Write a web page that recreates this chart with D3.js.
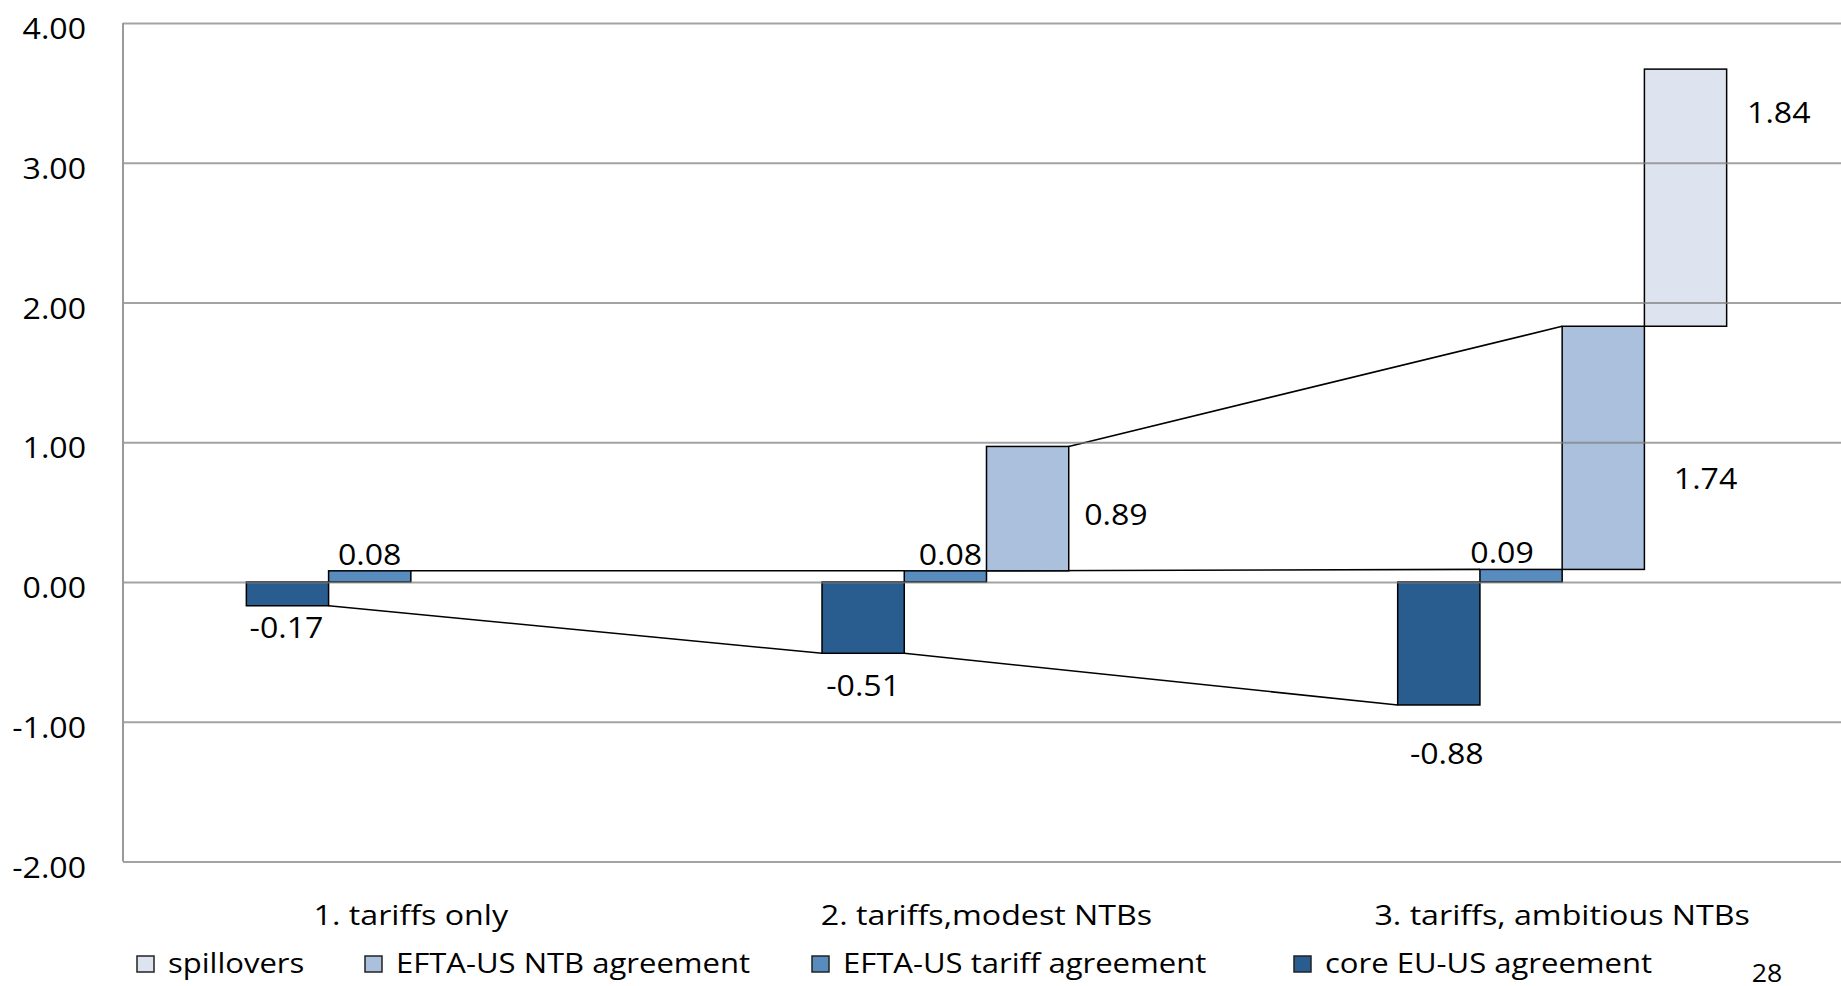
<!DOCTYPE html>
<html>
<head>
<meta charset="utf-8">
<script src="https://cdn.jsdelivr.net/npm/d3@7"></script>
<style>
  html, body { margin: 0; padding: 0; background: #ffffff; }
  svg { display: block; }
  text { font-family: "Open Sans", "Noto Sans", sans-serif; fill: #000; }
</style>
</head>
<body>
<svg id="chart" width="1841" height="986"></svg>
<script>
// ---- data ----
const categories = ["1. tariffs only", "2. tariffs,modest NTBs", "3. tariffs, ambitious NTBs"];
const coreEU     = [-0.17, -0.51, -0.88];
const eftaTariff = [0.08, 0.08, 0.09];
const eftaNTB    = [null, 0.89, 1.74];
const spillovers = [null, null, 1.84];
const yTicks     = [-2, -1, 0, 1, 2, 3, 4];

const seriesKeys   = ["core", "tariff", "ntb", "spill"];
const seriesNames  = ["core EU-US agreement", "EFTA-US tariff agreement", "EFTA-US NTB agreement", "spillovers"];
const seriesColors = ["#295d8f", "#588bbe", "#aac0dc", "#dee4ef"];
const legendOrder  = ["spill", "ntb", "tariff", "core"];
const pageNumber   = "28";

// ---- layout ----
const W = 1841, H = 986;
const plot = { left: 123, right: 1850, top: 23, bottom: 861.5 };
const numStretch = 1.07, wordStretch = 1.15;
const legendX = [137, 365, 812, 1294];
// hand-tuned label nudges [dx, dy] per series, per category
const labelNudge = {
  core:   [[-1, 0], [0, 11], [8, 27]],
  tariff: [[0, 0], [5, 0], [-19, 0]],
  ntb:    [null, [6, 5], [20, 30]],
  spill:  [null, null, [11, -86]]
};

const fmtLocale = d3.formatLocale({ decimal: ".", thousands: ",", grouping: [3], currency: ["", ""], minus: "-" });
const fmt = fmtLocale.format(".2f");

const svg = d3.select("#chart");

const x0 = d3.scaleBand().domain(categories).range([plot.left, plot.right]).paddingInner(0).paddingOuter(0);
const x1 = d3.scaleBand().domain(seriesKeys).range([0, x0.bandwidth()]).paddingInner(0).paddingOuter(1.5);
const y  = d3.scaleLinear().domain([-2, 4]).range([plot.bottom, plot.top]);
const bw = x1.bandwidth();

// waterfall segments: each series floats on the running total of the positive parts
const segs = [];
categories.forEach((c, i) => {
  const t = eftaTariff[i];
  const n = eftaNTB[i];
  const s = spillovers[i];
  segs.push({ key: "core", cat: c, i, v: coreEU[i], y0: 0, y1: coreEU[i] });
  segs.push({ key: "tariff", cat: c, i, v: t, y0: 0, y1: t });
  if (n != null) segs.push({ key: "ntb", cat: c, i, v: n, y0: t, y1: t + n });
  if (s != null) segs.push({ key: "spill", cat: c, i, v: s, y0: t + (n || 0), y1: t + (n || 0) + s });
});
const colorOf = k => seriesColors[seriesKeys.indexOf(k)];

// clip to the visible page
svg.append("defs").append("clipPath").attr("id", "pageclip")
  .append("rect").attr("x", 0).attr("y", 0).attr("width", W).attr("height", H);
const g = svg.append("g").attr("clip-path", "url(#pageclip)");

// series lines joining the ends of each series between neighbouring categories
const lineG = g.append("g");
seriesKeys.forEach(k => {
  const s = segs.filter(d => d.key === k).sort((a, b) => a.i - b.i);
  for (let j = 0; j < s.length - 1; j++) {
    const a = s[j], b = s[j + 1];
    if (b.i !== a.i + 1) continue;
    lineG.append("line")
      .attr("x1", x0(a.cat) + x1(k) + bw).attr("y1", y(a.y1))
      .attr("x2", x0(b.cat) + x1(k)).attr("y2", y(b.y1))
      .attr("stroke", "#000").attr("stroke-width", 1.6);
  }
});

// bars
g.append("g").selectAll("rect").data(segs).join("rect")
  .attr("x", d => x0(d.cat) + x1(d.key))
  .attr("y", d => y(Math.max(d.y0, d.y1)))
  .attr("width", bw)
  .attr("height", d => Math.abs(y(d.y0) - y(d.y1)))
  .attr("fill", d => colorOf(d.key))
  .attr("stroke", "#000").attr("stroke-width", 1.5);

// gridlines over the bars, as in the source sheet
const grid = g.append("g").attr("transform", `translate(${plot.left},0)`)
  .call(d3.axisLeft(y).tickValues(yTicks).tickSize(-(plot.right - plot.left)).tickFormat(""));
grid.select(".domain").remove();
grid.selectAll(".tick line").attr("stroke", "#7f7f7f").attr("stroke-opacity", 0.72).attr("stroke-width", 2);

// left axis line
g.append("line").attr("x1", plot.left).attr("x2", plot.left).attr("y1", plot.top).attr("y2", plot.bottom)
  .attr("stroke", "#9a9a9a").attr("stroke-width", 2);

// y tick labels
const yAxis = g.append("g").attr("transform", `translate(${plot.left},0)`)
  .call(d3.axisLeft(y).tickValues(yTicks).tickSize(0).tickPadding(0).tickFormat(fmt));
yAxis.select(".domain").remove();
yAxis.selectAll(".tick text")
  .attr("x", 0).attr("dy", null).attr("y", 0)
  .attr("font-size", 30).attr("font-family", "Open Sans")
  .attr("text-anchor", "end")
  .attr("transform", `translate(${86 - plot.left},15.5) scale(${numStretch},1)`);

// category labels
const xAxis = g.append("g").attr("transform", `translate(0,${plot.bottom})`)
  .call(d3.axisBottom(x0).tickSize(0));
xAxis.select(".domain").remove();
xAxis.selectAll(".tick text")
  .attr("y", 0).attr("dy", null)
  .attr("font-size", 28).attr("font-family", "Open Sans")
  .attr("transform", `translate(0,${925 - plot.bottom}) scale(${wordStretch},1)`);

// value labels
function putText(parent, str, x, yy, size, stretch, anchor, fill) {
  return parent.append("text")
    .attr("transform", `translate(${x},${yy}) scale(${stretch},1)`)
    .attr("text-anchor", anchor || "middle")
    .attr("font-size", size)
    .attr("fill", fill || "#000")
    .text(str);
}
const labG = g.append("g");
segs.forEach(d => {
  const nudge = labelNudge[d.key][d.i] || [0, 0];
  const bx = x0(d.cat) + x1(d.key);
  let lx, ly;
  if (d.key === "core") {
    lx = bx + bw / 2; ly = y(d.y1) + 32;
  } else if (d.key === "tariff") {
    lx = bx + bw / 2; ly = y(d.y1) - 6;
  } else {
    lx = bx + bw + bw / 2; ly = (y(d.y0) + y(d.y1)) / 2 + 11;
  }
  putText(labG, fmt(d.v), lx + nudge[0], ly + nudge[1], 30, numStretch, "middle");
});

// legend
const legG = g.append("g");
legendOrder.forEach((k, j) => {
  const lx = legendX[j];
  legG.append("rect")
    .attr("x", lx).attr("y", 956).attr("width", 17).attr("height", 16)
    .attr("fill", colorOf(k)).attr("stroke", "#222").attr("stroke-width", 1.5);
  putText(legG, seriesNames[seriesKeys.indexOf(k)], lx + 31, 973, 27, wordStretch, "start");
});

// page number
putText(g, pageNumber, 1767, 982, 25, numStretch, "middle", "#8a8a8a");
</script>
</body>
</html>
